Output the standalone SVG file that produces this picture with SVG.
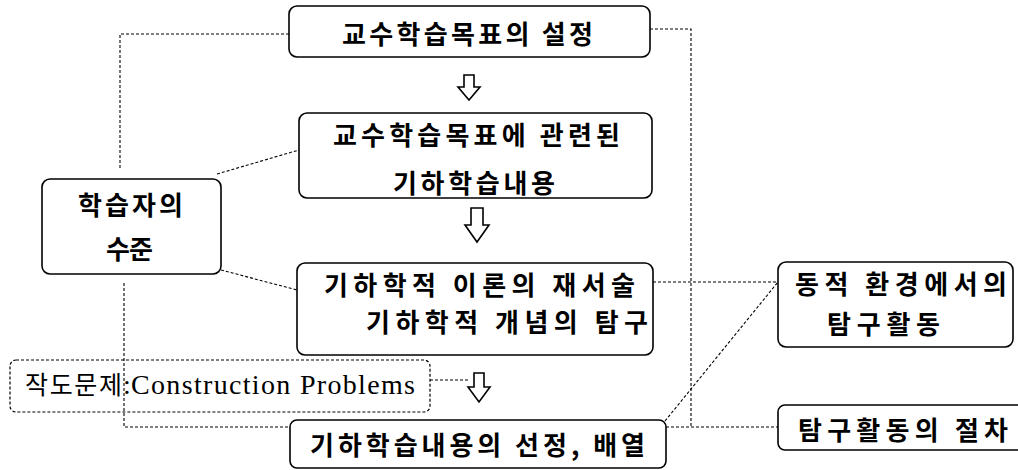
<svg xmlns="http://www.w3.org/2000/svg" width="1018" height="470" viewBox="0 0 1018 470">
<style>
.box{fill:#fff;stroke:#000;stroke-width:1.6}
.dbox{fill:none;stroke:#000;stroke-width:1.2;stroke-dasharray:3 2}
.con{fill:none;stroke:#000;stroke-width:1.1;stroke-dasharray:3 2}
.arr{fill:#fff;stroke:#000;stroke-width:1.6;stroke-linejoin:miter}
.t{font-family:"Noto Sans CJK KR","Noto Sans",sans-serif;font-weight:700;font-size:26px;fill:#000;dominant-baseline:central}
.s{font-family:"Liberation Serif","Noto Sans CJK KR",serif;font-size:28px;fill:#000}
.k{font-family:"Noto Sans CJK KR",sans-serif;font-size:25px}
</style>
<rect width="1018" height="470" fill="#fff"/>
<g id="connectors">
<polyline class="con" points="289,34 120,34 120,170"/>
<polyline class="con" points="650,29 691,29 691,427"/>
<line class="con" x1="666" y1="427" x2="778" y2="427"/>
<line class="con" x1="653" y1="282" x2="778" y2="282"/>
<line class="con" x1="665" y1="421" x2="778" y2="282"/>
<line class="con" x1="217" y1="174" x2="299" y2="150"/>
<line class="con" x1="221" y1="270" x2="297" y2="290"/>
<polyline class="con" points="124,283 124,427 290,427"/>
<line class="con" x1="430" y1="380" x2="468" y2="380"/>
</g>
<g id="arrows">
<polygon class="arr" points="464,75 474,75 474,87 480,87 469,100 458,87 464,87"/>
<polygon class="arr" points="471,208 483,208 483,225 489,225 477,242 465,225 471,225"/>
<polygon class="arr" points="474,373 484,373 484,387 490,387 479,402 468,387 474,387"/>
</g>
<g id="node-goal">
<rect class="box" x="289" y="6" width="361" height="51" rx="8"/>
<text class="t" x="342" y="32" textLength="251" lengthAdjust="spacing">교수학습목표의 설정</text>
</g>
<g id="node-content">
<rect class="box" x="299" y="113" width="353" height="85" rx="8"/>
<text class="t" x="333" y="133" textLength="287" lengthAdjust="spacing">교수학습목표에 관련된</text>
<text class="t" x="393" y="181" textLength="162" lengthAdjust="spacing">기하학습내용</text>
</g>
<g id="node-theory">
<rect class="box" x="297" y="263" width="356" height="92" rx="8"/>
<text class="t" x="324" y="283" textLength="311" lengthAdjust="spacing">기하학적 이론의 재서술</text>
<text class="t" x="366" y="320" textLength="282" lengthAdjust="spacing">기하학적 개념의 탐구</text>
</g>
<g id="node-learner">
<rect class="box" x="42" y="179" width="179" height="95" rx="8"/>
<text class="t" x="78" y="203" textLength="105" lengthAdjust="spacing">학습자의</text>
<text class="t" x="106" y="247" textLength="47" lengthAdjust="spacing">수준</text>
</g>
<g id="node-construction">
<rect class="dbox" x="10" y="360" width="420" height="52" rx="6"/>
<text class="s" x="25" y="394"><tspan class="k" x="25" textLength="97" lengthAdjust="spacing">작도문제</tspan><tspan x="123">:</tspan><tspan x="131" textLength="284" lengthAdjust="spacing">Construction Problems</tspan></text>
</g>
<g id="node-selection">
<rect class="box" x="290" y="420" width="376" height="48" rx="7"/>
<text class="t" x="310" y="443" textLength="335" lengthAdjust="spacing">기하학습내용의 선정, 배열</text>
</g>
<g id="node-dynamic">
<rect class="box" x="778" y="262" width="235" height="85" rx="8"/>
<text class="t" x="795" y="282" textLength="212" lengthAdjust="spacing">동적 환경에서의</text>
<text class="t" x="827" y="322" textLength="113" lengthAdjust="spacing">탐구활동</text>
</g>
<g id="node-procedure">
<rect class="box" x="778" y="405" width="250" height="45" rx="7"/>
<text class="t" x="798" y="428" textLength="210" lengthAdjust="spacing">탐구활동의 절차</text>
</g>
</svg>
